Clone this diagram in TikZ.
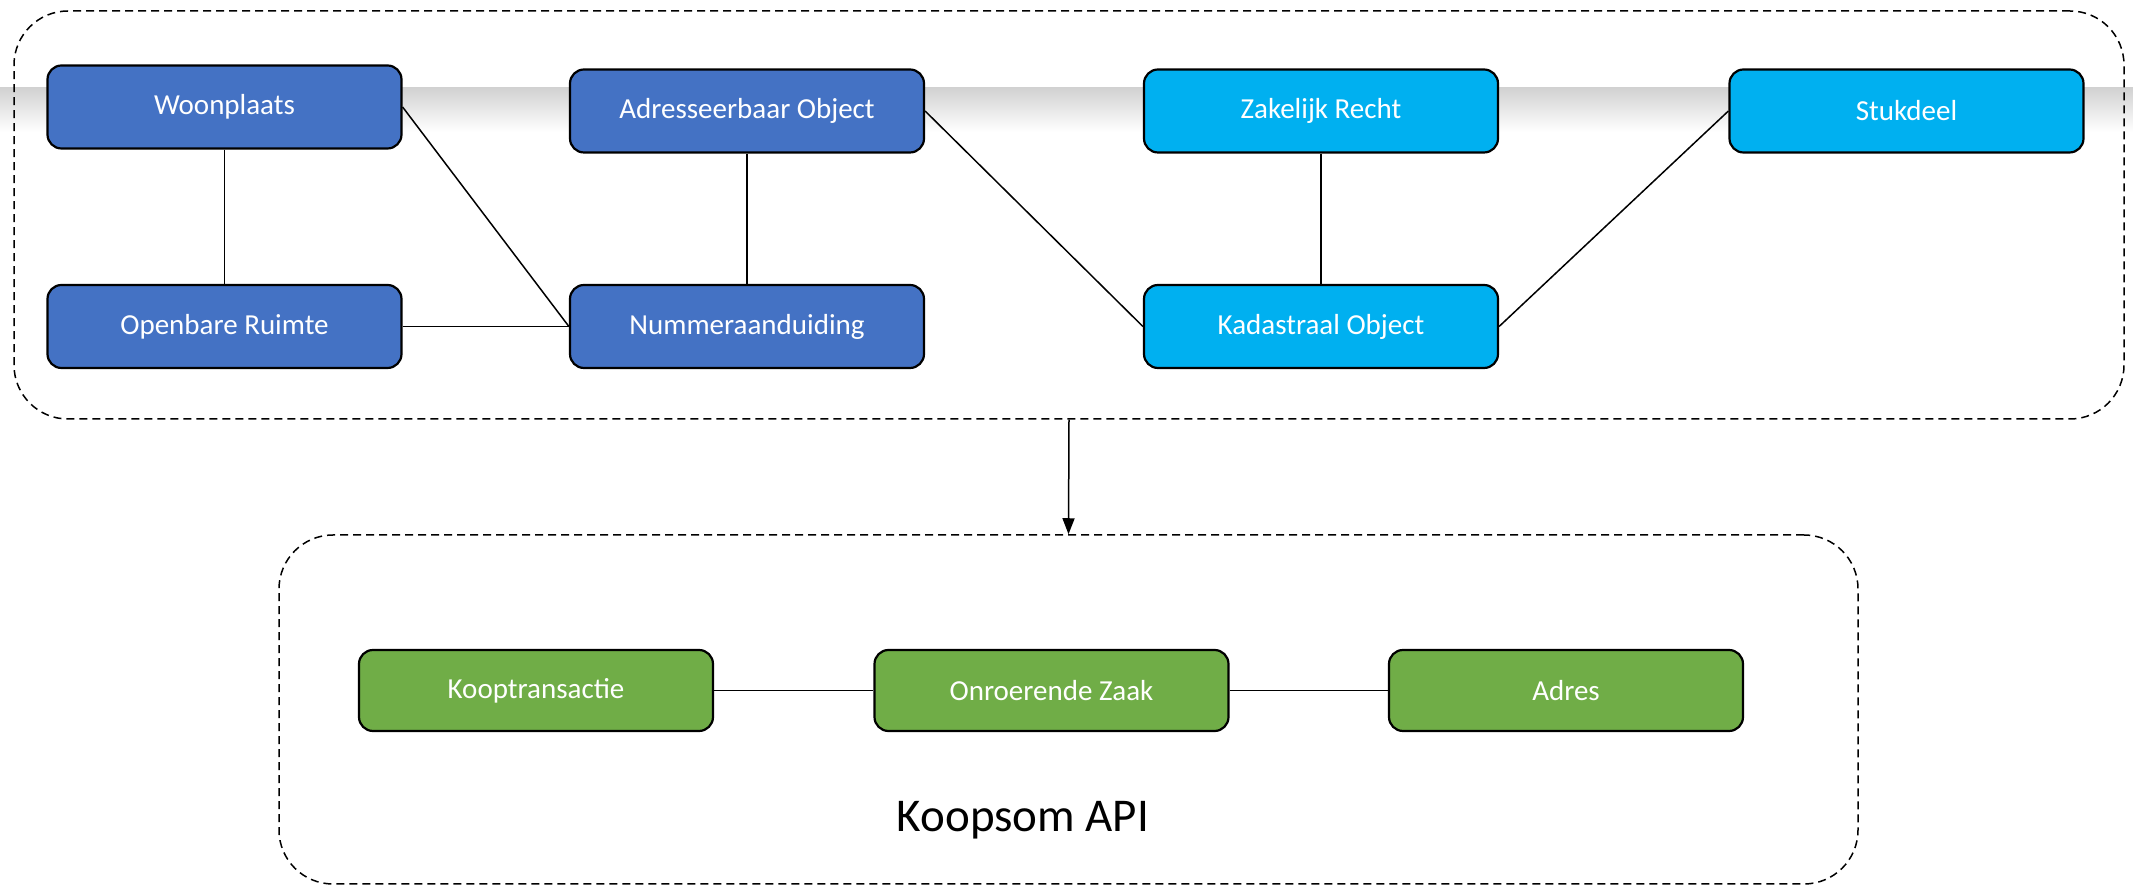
\documentclass[tikz,border=0pt]{standalone}
\usepackage{fontspec}
\setmainfont{Carlito}
\usetikzlibrary{arrows.meta}
\definecolor{boxblue}{HTML}{4472C4}
\definecolor{boxcyan}{HTML}{00B0F0}
\definecolor{boxgreen}{HTML}{70AD47}
\definecolor{bandgray}{HTML}{D2D2D2}
\tikzset{
  entity/.style={draw=black, line width=1.1pt, rounded corners=7pt,
    minimum width=177pt, minimum height=41.5pt, text=white,
    font=\fontsize{14.5pt}{17pt}\selectfont, inner sep=0pt},
  bluebox/.style={entity, fill=boxblue},
  cyanbox/.style={entity, fill=boxcyan},
  greenbox/.style={entity, fill=boxgreen, minimum height=40.5pt},
  container/.style={draw=black, line width=0.75pt, dash pattern=on 4pt off 2.5pt,
    rounded corners=27pt, inner sep=0pt},
  link/.style={draw=black, line width=0.75pt}
}
\begin{document}
\begin{tikzpicture}[x=0.5pt, y=-0.5pt]
\useasboundingbox (0,0) rectangle (2133,886);
\fill[white] (0,0) rectangle (2133,886);
\shade[top color=bandgray, bottom color=white] (0,88) rectangle (2133,132);

\node[container, minimum width=1055pt, minimum height=204pt] (top) at (1069,215) {};
\node[container, minimum width=789.5pt, minimum height=174.5pt] (bottom) at (1068.5,709.5) {};

\node[bluebox] (woon) at (224.5,107) {Woonplaats};
\node[bluebox] (open) at (224.5,326.5) {Openbare Ruimte};
\node[bluebox] (adr) at (747,111) {Adresseerbaar Object};
\node[bluebox] (num) at (747,326.5) {Nummeraanduiding};
\node[cyanbox] (zak) at (1321,111) {Zakelijk Recht};
\node[cyanbox] (kad) at (1321,326.5) {Kadastraal Object};
\node[cyanbox] (stuk) at (1906.5,111) {Stukdeel};

\node[greenbox] (koop) at (536,690.5) {Kooptransactie};
\node[greenbox] (onr) at (1051.5,690.5) {Onroerende Zaak};
\node[greenbox] (adres) at (1566,690.5) {Adres};

\node[font=\fontsize{23.5pt}{28pt}\selectfont, inner sep=0pt] (api) at (1023,820) {Koopsom API};

\draw[link] (woon.south) -- (open.north);
\draw[link] (woon.east) -- (num.west);
\draw[link] (open.east) -- (num.west);
\draw[link] (adr.south) -- (num.north);
\draw[link] (adr.east) -- (kad.west);
\draw[link] (zak.south) -- (kad.north);
\draw[link] (kad.east) -- (stuk.west);
\draw[link] (koop.east) -- (onr.west);
\draw[link] (onr.east) -- (adres.west);

\draw[link, -{Triangle[length=8pt,width=6pt]}] (top.south) -- (bottom.north);
\end{tikzpicture}
\end{document}
